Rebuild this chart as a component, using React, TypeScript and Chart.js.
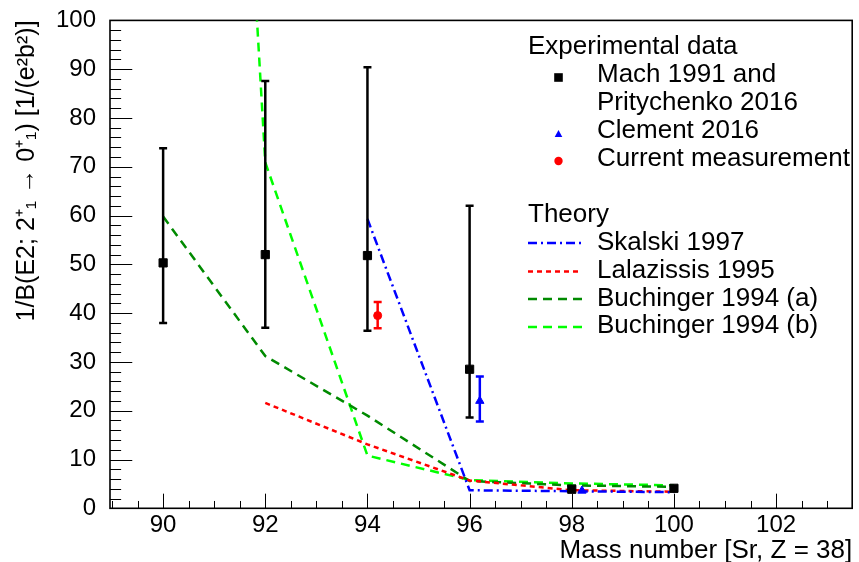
import React, { useEffect, useRef } from "react";
import { Chart, registerables } from "chart.js";

Chart.register(...registerables);

const FONT = "'Liberation Sans', Arial, Helvetica, sans-serif";

// ---------- Experimental data ----------
const machMass = [90, 92, 94, 96, 98, 100];
const machValue = [50.3, 52.0, 51.8, 28.5, 3.9, 4.1];
const machErrLow = [38.0, 37.0, 36.4, 18.6, null, null];
const machErrHigh = [73.8, 87.6, 90.4, 62.0, null, null];

const clementMass = [96.2, 98.2];
const clementValue = [22.0, 3.6];
const clementErrLow = [17.8, null];
const clementErrHigh = [27.0, null];

const currentMass = [94.2];
const currentValue = [39.5];
const currentErrLow = [36.9];
const currentErrHigh = [42.3];

// ---------- Theory ----------
const skalskiMass = [94, 96, 98, 100];
const skalskiValue = [59.3, 3.7, 3.5, 3.3];

const lalazissisMass = [92, 94, 96, 98, 100];
const lalazissisValue = [21.6, 13.1, 5.7, 3.7, 3.4];

const buchingerAMass = [90, 92, 94, 96, 98, 100];
const buchingerAValue = [59.8, 31.2, 19.0, 5.6, 4.7, 4.4];

const buchingerBMass = [90, 92, 94, 96, 98, 100];
const buchingerBValue = [430, 70.9, 10.8, 5.8, 5.1, 4.7];

// ---------- Axes ----------
const xMin = 88.96;
const xMax = 103.49;
const xTicks = [90, 92, 94, 96, 98, 100, 102];
const yMin = 0;
const yMax = 100;
const yTicks = [0, 10, 20, 30, 40, 50, 60, 70, 80, 90, 100];

const xTitle = "Mass number [Sr, Z = 38]";
const yTitle = "1/B(E2; 2\u207A\u2081 \u2192 0\u207A\u2081) [1/(e\u00B2b\u00B2)]";

const legendExpHeader = "Experimental data";
const legendTheoryHeader = "Theory";
const legendMach = ["Mach 1991 and", "Pritychenko 2016"];
const legendClement = "Clement 2016";
const legendCurrent = "Current measurement";
const legendSkalski = "Skalski 1997";
const legendLalazissis = "Lalazissis 1995";
const legendBuchA = "Buchinger 1994 (a)";
const legendBuchB = "Buchinger 1994 (b)";

const BLUE = "#0000ff";
const RED = "#ff0000";
const DKGREEN = "#008a00";
const LTGREEN = "#00ff00";

const DASH_SKALSKI = [9, 4, 2, 4];
const DASH_LALA = [5, 4];
const DASH_BUCH = [9, 6];

const pts = (xs: number[], ys: number[]) => xs.map((x, i) => ({ x, y: ys[i] }));

const errorBarPlugin = {
  id: "errorBars",
  beforeDatasetDraw(chart: any, args: any) {
    const ds = chart.data.datasets[args.index];
    if (!ds.errLow) return;
    const { ctx, chartArea, scales } = chart;
    const xs = scales.x;
    const ys = scales.y;
    ctx.save();
    ctx.beginPath();
    ctx.rect(chartArea.left, chartArea.top, chartArea.right - chartArea.left, chartArea.bottom - chartArea.top);
    ctx.clip();
    ctx.strokeStyle = ds.errColor;
    ctx.lineWidth = 2.5;
    ctx.setLineDash([]);
    ds.data.forEach((p: any, i: number) => {
      const lo = ds.errLow[i];
      const hi = ds.errHigh[i];
      if (lo == null || hi == null) return;
      const px = xs.getPixelForValue(p.x);
      const pl = ys.getPixelForValue(lo);
      const ph = ys.getPixelForValue(hi);
      ctx.beginPath();
      ctx.moveTo(px, pl);
      ctx.lineTo(px, ph);
      ctx.moveTo(px - 4, pl);
      ctx.lineTo(px + 4, pl);
      ctx.moveTo(px - 4, ph);
      ctx.lineTo(px + 4, ph);
      ctx.stroke();
    });
    ctx.restore();
  },
};

const framePlugin = {
  id: "rootFrame",
  beforeDatasetsDraw(chart: any) {
    const { ctx, chartArea, scales } = chart;
    const { left, right, top, bottom } = chartArea;
    const xs = scales.x;
    const ys = scales.y;
    ctx.save();
    ctx.strokeStyle = "#000";
    ctx.setLineDash([]);
    ctx.lineWidth = 1;
    const xMaj = (bottom - top) * 0.03;
    const yMaj = (right - left) * 0.03;
    ctx.beginPath();
    for (let v = 89; v <= xMax + 1e-6; v += 0.5) {
      const px = Math.round(xs.getPixelForValue(v)) + 0.5;
      if (px < left || px > right) continue;
      const major = Math.abs(v / 2 - Math.round(v / 2)) < 1e-6;
      const len = major ? xMaj : xMaj / 2;
      ctx.moveTo(px, bottom);
      ctx.lineTo(px, bottom - len);
    }
    for (let v = yMin; v <= yMax + 1e-6; v += 2) {
      const py = Math.round(ys.getPixelForValue(v)) + 0.5;
      const major = Math.abs(v % 10) < 1e-6;
      const len = major ? yMaj : yMaj / 2;
      ctx.moveTo(left, py);
      ctx.lineTo(left + len, py);
    }
    ctx.stroke();
    ctx.lineWidth = 1.6;
    ctx.strokeRect(left, top, right - left, bottom - top);
    ctx.restore();
  },
};

const legendPlugin = {
  id: "rootLegend",
  afterDraw(chart: any) {
    const ctx = chart.ctx as CanvasRenderingContext2D;
    ctx.save();
    ctx.font = `26px ${FONT}`;
    ctx.fillStyle = "#000";
    ctx.textAlign = "left";
    ctx.textBaseline = "alphabetic";
    const hx = 528;
    const tx = 597;
    const mx = 558.5;
    ctx.fillText(legendExpHeader, hx, 53.5);
    ctx.fillText(legendMach[0], tx, 82);
    ctx.fillText(legendMach[1], tx, 110);
    ctx.fillText(legendClement, tx, 138);
    ctx.fillText(legendCurrent, tx, 166);
    ctx.fillText(legendTheoryHeader, hx, 222);
    ctx.fillText(legendSkalski, tx, 250);
    ctx.fillText(legendLalazissis, tx, 278);
    ctx.fillText(legendBuchA, tx, 306);
    ctx.fillText(legendBuchB, tx, 333);

    ctx.fillStyle = "#000";
    ctx.fillRect(mx - 4.3, 77.5 - 4.3, 8.6, 8.6);
    ctx.fillStyle = BLUE;
    ctx.beginPath();
    ctx.moveTo(mx, 130);
    ctx.lineTo(mx + 3.8, 137);
    ctx.lineTo(mx - 3.8, 137);
    ctx.closePath();
    ctx.fill();
    ctx.fillStyle = RED;
    ctx.beginPath();
    ctx.arc(mx, 161, 4.2, 0, Math.PI * 2);
    ctx.fill();

    const sample = (y: number, color: string, dash: number[]) => {
      ctx.strokeStyle = color;
      ctx.lineWidth = 2.5;
      ctx.setLineDash(dash);
      ctx.beginPath();
      ctx.moveTo(528, y);
      ctx.lineTo(582, y);
      ctx.stroke();
    };
    sample(243, BLUE, DASH_SKALSKI);
    sample(271.5, RED, DASH_LALA);
    sample(299, DKGREEN, DASH_BUCH);
    sample(327, LTGREEN, DASH_BUCH);
    ctx.restore();
  },
};

export default function App() {
  const canvasRef = useRef<HTMLCanvasElement | null>(null);

  useEffect(() => {
    document.body.style.margin = "0";
    const canvas = canvasRef.current;
    if (!canvas) return;

    const lineDs = (label: string, xs: number[], ys: number[], color: string, dash: number[]) => ({
      label,
      data: pts(xs, ys),
      showLine: true,
      borderColor: color,
      backgroundColor: color,
      borderWidth: 2.5,
      borderDash: dash,
      pointRadius: 0,
      pointHoverRadius: 0,
      tension: 0,
      clip: 0,
    });

    const chart = new Chart(canvas, {
      type: "scatter",
      data: {
        datasets: [
          {
            label: "Current measurement",
            data: pts(currentMass, currentValue),
            pointStyle: "circle",
            pointRadius: 4,
            pointBorderWidth: 1,
            backgroundColor: RED,
            borderColor: RED,
            errLow: currentErrLow,
            errHigh: currentErrHigh,
            errColor: RED,
          } as any,
          {
            label: "Clement 2016",
            data: pts(clementMass, clementValue),
            pointStyle: "triangle",
            pointRadius: 4.8,
            pointBorderWidth: 1,
            backgroundColor: BLUE,
            borderColor: BLUE,
            errLow: clementErrLow,
            errHigh: clementErrHigh,
            errColor: BLUE,
          } as any,
          {
            label: "Mach 1991 and Pritychenko 2016",
            data: pts(machMass, machValue),
            pointStyle: "rect",
            pointRadius: 5.8,
            pointBorderWidth: 1,
            backgroundColor: "#000",
            borderColor: "#000",
            errLow: machErrLow,
            errHigh: machErrHigh,
            errColor: "#000",
          } as any,
          lineDs("Skalski 1997", skalskiMass, skalskiValue, BLUE, DASH_SKALSKI),
          lineDs("Lalazissis 1995", lalazissisMass, lalazissisValue, RED, DASH_LALA),
          lineDs("Buchinger 1994 (a)", buchingerAMass, buchingerAValue, DKGREEN, DASH_BUCH),
          lineDs("Buchinger 1994 (b)", buchingerBMass, buchingerBValue, LTGREEN, DASH_BUCH),
        ],
      },
      options: {
        responsive: false,
        animation: false,
        devicePixelRatio: 1,
        layout: { padding: { top: 17.3, right: 5.5, left: 0, bottom: 0 } },
        plugins: {
          legend: { display: false },
          tooltip: { enabled: false },
        },
        scales: {
          x: {
            type: "linear",
            min: xMin,
            max: xMax,
            grid: { display: false },
            border: { display: false },
            afterBuildTicks: (s: any) => {
              s.ticks = xTicks.map((v) => ({ value: v }));
            },
            afterFit: (s: any) => {
              s.height = 562 - 508.3;
            },
            ticks: {
              color: "#000",
              font: { family: FONT, size: 24 },
              padding: -5,
              maxRotation: 0,
              autoSkip: false,
            },
            title: {
              display: true,
              text: xTitle,
              align: "end",
              color: "#000",
              font: { family: FONT, size: 26, lineHeight: 1 },
              padding: { top: 0, bottom: -2 },
            },
          },
          y: {
            type: "linear",
            min: yMin,
            max: yMax,
            grid: { display: false },
            border: { display: false },
            afterBuildTicks: (s: any) => {
              s.ticks = yTicks.map((v) => ({ value: v }));
            },
            afterFit: (s: any) => {
              s.width = 110;
            },
            ticks: {
              color: "#000",
              font: { family: FONT, size: 24 },
              padding: 6,
              autoSkip: false,
            },
            title: {
              display: true,
              text: yTitle,
              align: "end",
              color: "#000",
              font: { family: FONT, size: 25, lineHeight: 1 },
              padding: { top: 15, bottom: 0 },
            },
          },
        },
      },
      plugins: [framePlugin, errorBarPlugin, legendPlugin],
    } as any);

    return () => {
      chart.destroy();
    };
  }, []);

  return (
    <div style={{ width: 859, height: 562, position: "relative" }}>
      <canvas ref={canvasRef} width={859} height={562} style={{ display: "block" }} />
    </div>
  );
}
